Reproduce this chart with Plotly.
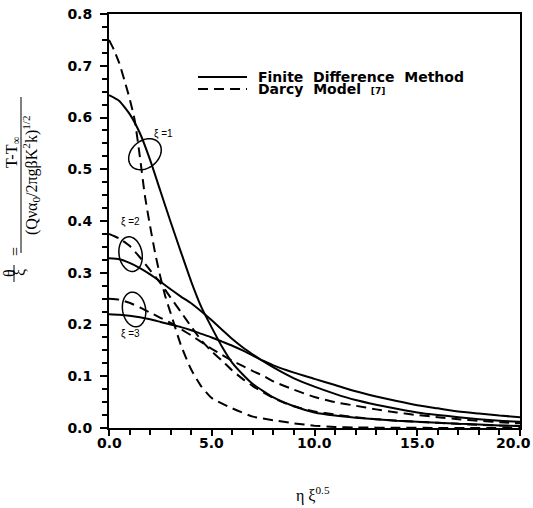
import numpy as np
import plotly.graph_objects as go

# ---- data: theta/xi versus eta*xi^0.5 ----
# Finite difference method (solid)
x_fd1 = [0, 0.5, 1.0, 1.5, 2.0, 2.5, 3.0, 3.5, 4.0, 4.5, 5.0, 5.5, 6.0, 6.5, 7.0,
         8.0, 9.0, 10.0, 11.0, 12.0, 13.0, 14.0, 15.0, 16.0, 17.0, 18.0, 19.0, 20.0]
y_fd1 = [0.643, 0.632, 0.607, 0.570, 0.518, 0.458, 0.398, 0.340, 0.283, 0.233, 0.194,
         0.157, 0.126, 0.104, 0.085, 0.059, 0.042, 0.030, 0.024, 0.020, 0.017, 0.014,
         0.012, 0.010, 0.008, 0.007, 0.005, 0.004]

x_fd2 = [0, 0.5, 1, 1.5, 2, 2.5, 3, 3.5, 4, 4.5, 5, 5.5, 6, 6.5, 7, 7.5, 8, 9, 10,
         11, 12, 13, 14, 15, 16, 17, 18, 19, 20]
y_fd2 = [0.328, 0.326, 0.319, 0.309, 0.297, 0.283, 0.268, 0.254, 0.241, 0.225, 0.208,
         0.190, 0.172, 0.156, 0.142, 0.129, 0.117, 0.096, 0.080, 0.066, 0.054, 0.045,
         0.037, 0.030, 0.025, 0.021, 0.017, 0.014, 0.012]

x_fd3 = [0, 0.5, 1, 1.5, 2, 2.5, 3, 3.5, 4, 4.5, 5, 5.5, 6, 6.5, 7, 7.5, 8, 9, 10,
         11, 12, 13, 14, 15, 16, 17, 18, 19, 20]
y_fd3 = [0.220, 0.219, 0.217, 0.214, 0.210, 0.205, 0.200, 0.195, 0.189, 0.182, 0.175,
         0.167, 0.159, 0.150, 0.140, 0.130, 0.121, 0.107, 0.095, 0.083, 0.071, 0.061,
         0.052, 0.044, 0.038, 0.032, 0.028, 0.024, 0.021]

# Darcy model [7] (dashed)
x_dm1 = [0, 0.25, 0.5, 0.75, 1.0, 1.25, 1.5, 1.75, 2.0, 2.25, 2.5, 2.75, 3.0, 3.5,
         4.0, 4.5, 5.0, 6.0, 7.0, 8.0, 9.0, 10.0, 11.0, 12.0, 14.0, 16.0, 20.0]
y_dm1 = [0.750, 0.730, 0.705, 0.672, 0.637, 0.595, 0.525, 0.448, 0.390, 0.337, 0.292,
         0.253, 0.222, 0.160, 0.113, 0.080, 0.058, 0.038, 0.022, 0.015, 0.009, 0.0045,
         0.002, 0.001, 0.0005, 0.0002, 0.0]

x_dm2 = [0, 0.5, 1, 1.5, 2, 2.5, 3, 3.5, 4, 4.5, 5, 5.5, 6, 6.5, 7, 7.5, 8, 8.5, 9,
         10, 11, 12, 13, 14, 15, 16, 17, 18, 19, 20]
y_dm2 = [0.375, 0.366, 0.352, 0.330, 0.305, 0.280, 0.252, 0.224, 0.196, 0.169, 0.148,
         0.130, 0.111, 0.095, 0.081, 0.069, 0.058, 0.049, 0.042, 0.032, 0.026, 0.021,
         0.017, 0.014, 0.012, 0.010, 0.008, 0.006, 0.005, 0.004]

x_dm3 = [0, 0.5, 1, 1.5, 2, 2.5, 3, 3.5, 4, 4.5, 5, 5.5, 6, 6.5, 7, 7.5, 8, 9, 10,
         11, 12, 13, 14, 15, 16, 17, 18, 19, 20]
y_dm3 = [0.250, 0.248, 0.242, 0.233, 0.223, 0.213, 0.203, 0.191, 0.179, 0.166, 0.153,
         0.141, 0.130, 0.120, 0.110, 0.101, 0.090, 0.074, 0.060, 0.050, 0.043, 0.036,
         0.030, 0.025, 0.021, 0.017, 0.014, 0.011, 0.009]

# x tick positions that carry a label
x_tick_vals = [0, 5, 10, 15, 20]

# markers grouping each pair of curves: centre (data units) and label position
group_labels = ["ξ =1", "ξ =2", "ξ =3"]
ellipse_cx = [1.75, 1.05, 1.22]
ellipse_cy = [0.529, 0.336, 0.229]
label_x = [2.65, 1.07, 1.07]
label_y = [0.568, 0.398, 0.182]

legend_names = ["Finite  Difference  Method", "Darcy  Model"]

# ---- layout geometry ----
W, H = 533, 508
ML, MR, MT, MB = 109, 13, 14, 80
PW, PH = W - ML - MR, H - MT - MB
XR, YR = (0, 20), (0, 0.8)
SX = PW / (XR[1] - XR[0])   # px per x unit
SY = PH / (YR[1] - YR[0])   # px per y unit


def px(xp, yp):
    """pixel position on the page -> paper coordinates"""
    return (xp - ML) / PW, (H - MB - yp) / PH


fig = go.Figure()

DASH = "10px,6px"
for xs, ys in [(x_fd1, y_fd1), (x_fd2, y_fd2), (x_fd3, y_fd3)]:
    fig.add_trace(go.Scatter(x=xs, y=ys, mode="lines",
                             line=dict(color="black", width=2, shape="spline", smoothing=0.5),
                             showlegend=False, hoverinfo="skip"))
for xs, ys in [(x_dm1, y_dm1), (x_dm2, y_dm2), (x_dm3, y_dm3)]:
    fig.add_trace(go.Scatter(x=xs, y=ys, mode="lines",
                             line=dict(color="black", width=2, dash=DASH, shape="spline", smoothing=0.5),
                             showlegend=False, hoverinfo="skip"))

shapes = []
# tilted ellipses around each pair of curves (radii and tilt in pixels / degrees)
ell_geom = [(18, 13.5, 40), (17.5, 11.5, 100), (17.5, 11.5, 100)]
t = np.linspace(0, 2 * np.pi, 60)
for cx, cy, (a, b, ang) in zip(ellipse_cx, ellipse_cy, ell_geom):
    th = np.radians(ang)
    ex = a * np.cos(t) * np.cos(th) - b * np.sin(t) * np.sin(th)
    ey = a * np.cos(t) * np.sin(th) + b * np.sin(t) * np.cos(th)
    xs = cx + ex / SX
    ys = cy + ey / SY
    path = "M " + " L ".join(f"{u:.4f},{v:.5f}" for u, v in zip(xs, ys)) + " Z"
    shapes.append(dict(type="path", path=path, xref="x", yref="y",
                       line=dict(color="black", width=1.5)))

annotations = []
for txt, lx, ly in zip(group_labels, label_x, label_y):
    annotations.append(dict(x=lx, y=ly, xref="x", yref="y", text=txt, showarrow=False,
                            font=dict(family="Liberation Sans", size=10, color="black")))

tickfont = dict(family="DejaVu Sans", size=14, color="black", weight="bold")

# x tick labels; the last one is kept inside the page edge
for v in x_tick_vals:
    last = v == x_tick_vals[-1]
    annotations.append(dict(x=v, y=0, xref="x", yref="paper", text=f"{v:.1f}",
                            showarrow=False, yanchor="top", yshift=-5,
                            xanchor="right" if last else "center", xshift=13 if last else 0,
                            font=tickfont))

# legend drawn in page pixels
leg_rows = [(77, None), (89, DASH)]
for (yy, dash), name in zip(leg_rows, legend_names):
    x0, y0 = px(198, yy)
    x1, _ = px(247, yy)
    ln = dict(color="black", width=2)
    if dash:
        ln["dash"] = dash
    shapes.append(dict(type="line", xref="paper", yref="paper", x0=x0, x1=x1, y0=y0, y1=y0, line=ln))
    tx, ty = px(256, yy)
    label = name.replace("  ", "&nbsp;&nbsp;")
    if dash:
        label += "&nbsp;&nbsp;<span style='font-size:9px'>[7]</span>"
    annotations.append(dict(x=tx, y=ty, xref="paper", yref="paper", text=label,
                            showarrow=False, xanchor="left", yanchor="middle",
                            font=dict(family="DejaVu Sans", size=14, color="black", weight="bold")))

# y-axis title built from rotated pieces
serif = dict(family="Liberation Serif", size=16, color="black")
ytitle_parts = [
    ("θ", 9, 273),
    ("ξ", 19, 273),
    ("=", 15, 252),
    ("T-T<sub>∞</sub>", 12, 153),
    ("(Qνα<sub>0</sub>/2πgβK<sup>2</sup>k)<sup>1/2</sup>", 31, 175),
]
for txt, xx, yy in ytitle_parts:
    ax_, ay_ = px(xx, yy)
    annotations.append(dict(x=ax_, y=ay_, xref="paper", yref="paper", text=txt, showarrow=False,
                            textangle=-90, xanchor="center", yanchor="middle", font=serif))
for xx, ya, yb in [(14, 265, 282), (21, 97, 253)]:
    x0, y0 = px(xx, ya)
    _, y1 = px(xx, yb)
    shapes.append(dict(type="line", xref="paper", yref="paper", x0=x0, x1=x0, y0=y0, y1=y1,
                       line=dict(color="black", width=1)))

# x-axis title
tx, ty = px(313, 507)
annotations.append(dict(x=tx, y=ty, xref="paper", yref="paper", text="η ξ<sup>0.5</sup>",
                        showarrow=False, yanchor="bottom",
                        font=dict(family="Liberation Serif", size=16, color="black")))

fig.update_layout(
    width=W, height=H,
    margin=dict(l=ML, r=MR, t=MT, b=MB, autoexpand=False),
    paper_bgcolor="white", plot_bgcolor="white",
    shapes=shapes, annotations=annotations,
    showlegend=False,
    xaxis=dict(range=list(XR), tick0=0, dtick=5, showticklabels=False, automargin=False,
               showgrid=False, zeroline=False, showline=True, linecolor="black", linewidth=2,
               mirror=True, ticks="outside", ticklen=6, tickwidth=2, tickcolor="black",
               minor=dict(dtick=1, ticks="outside", ticklen=5, tickwidth=1.5, tickcolor="black")),
    yaxis=dict(range=list(YR), tick0=0, dtick=0.1, tickformat=".1f", automargin=False,
               showgrid=False, zeroline=False, showline=True, linecolor="black", linewidth=2,
               mirror=True, ticks="outside", ticklen=7, tickwidth=2, tickcolor="black",
               minor=dict(dtick=0.025, ticks="outside", ticklen=5, tickwidth=1.5, tickcolor="black"),
               tickfont=tickfont, ticklabelstandoff=5),
)

fig.write_html("out.html")
